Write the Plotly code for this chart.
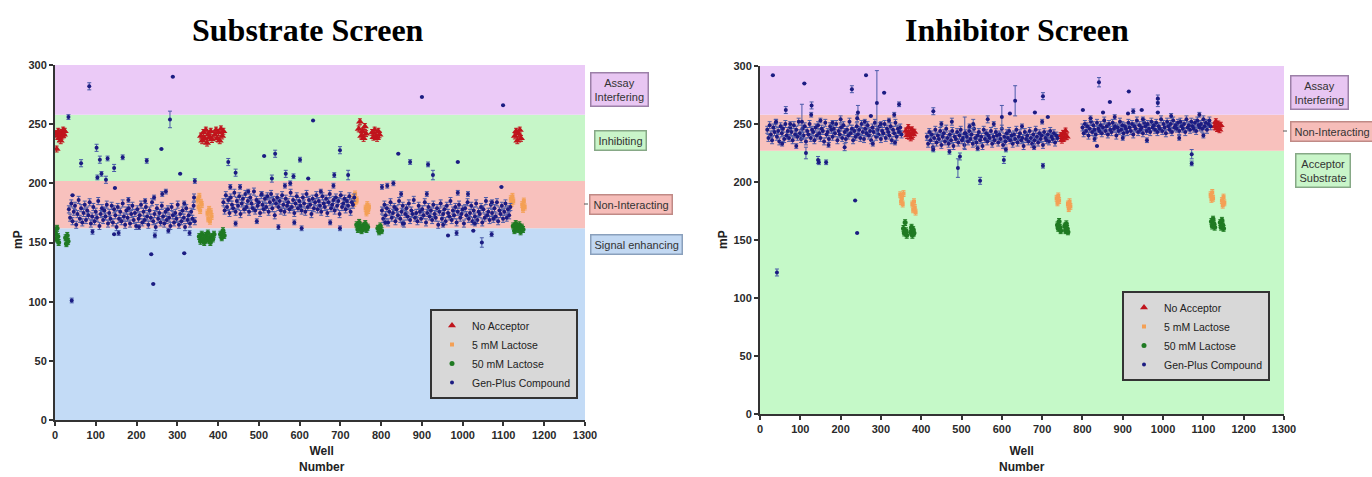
import plotly.graph_objects as go

W, H = 1372, 477
STEP = 3

# ================= Substrate Screen (left) =================
L_zone_bounds = [0, 162, 202, 258, 300]   # signal enhancing / non-interacting / inhibiting / assay interfering

# Gen-Plus dense plates (consecutive wells, every STEP wells)
L_band1_start = 34
L_band1 = [178,171,183,168,176,181,165,174,186,170,179,167,175,182,169,177,173,184,166,172,
           180,168,176,171,185,164,174,179,169,177,172,182,166,175,170,181,167,178,173,163,
           180,170,176,168,183,172,165,177,171,179,166,174,181,169,175,164,178,170,173,182,
           167,176,169,180,172,165,177,171,184,168,174,163,179,170,175,167,181,172,166,176,
           169,178,171,164,180,173,167,175,170,182,165,174,168,177,171,163,179,169,173,166,
           176,170,181,168]
L_band2_start = 413
L_band2 = [184,177,190,180,186,175,188,182,179,192,176,185,181,189,174,183,187,178,191,180,
           185,176,188,183,179,193,177,186,181,184,175,190,182,178,187,180,189,176,184,191,
           179,186,173,183,188,180,185,177,190,182,176,187,181,184,178,192,180,186,175,183,
           189,179,185,181,177,188,183,176,191,180,186,182,174,187,179,184,190,178,185,181,
           176,189,183,180,187,175,184,191,179,182,186,177,188,181,185,174,190,180,183,187,
           178,185,181,189,176,184,182,188]
L_band3_start = 802
L_band3 = [177,170,182,173,179,167,176,184,171,175,180,168,178,173,185,170,176,181,166,174,
           179,172,183,169,177,174,186,171,175,168,181,176,170,178,173,184,167,175,180,172,
           177,169,182,174,171,179,165,176,183,170,174,178,168,181,175,172,185,169,177,173,
           180,167,176,182,171,174,178,166,179,173,184,170,175,181,168,177,172,183,169,176,
           174,180,167,178,171,185,173,176,169,182,175,170,179,172,184,168,177,174,181,170,
           176,183,171,178,173,180]

# Gen-Plus individual wells (hits and scatter) with error bars
L_gp_w = [84,33,289,282,261,307,343,64,102,110,104,114,125,129,145,147,166,225,43,
          425,443,513,540,532,566,585,601,621,633,699,685,719,900,1099,842,871,915,927,988,1095,802,815,830,
          41,236,241,317,92,145,156,245,278,330,1047,964,985,1071,1026,
          221,243,263,272,180,317,341,206,
          430,454,474,507,564,577,683,652,443,495,548,605,587,675,699,
          849,912,988,1013,1072,853,952,1030,810]
L_gp_v = [282,256,290,254,229,208,202,217,230,220,205,208,203,221,213,196,222,219,190,
          218,209,223,225,204,208,206,220,204,253,228,207,207,273,266,225,218,216,207,218,197,197,198,200,
          101,140,115,141,159,157,158,156,160,158,150,156,158,157,160,
          185,188,191,193,186,183,188,163,
          197,197,193,191,198,200,198,193,166,168,163,162,167,167,162,
          191,191,192,191,184,166,165,166,167]
L_gp_e = [3,2,0,7,0,0,2,3,3,3,2,2,3,2,3,0,2,2,0,
          3,3,0,3,3,3,2,2,0,0,3,2,4,0,0,0,2,2,4,0,0,2,2,2,
          2,0,0,0,2,0,2,2,2,2,4,0,2,2,0,
          2,2,2,2,2,2,3,2,
          2,2,2,2,2,2,2,2,2,2,2,2,2,2,2,
          2,2,2,2,2,2,2,2,2]

L_noacc_w = [2,4,6,8,10,12,14,16,18,20,22,24, 358,361,364,367,370,373,376,379,382,385,
             392,395,398,401,404,407,410,413, 745,748,751,754,757,760,763,
             778,781,784,787,790,793,796, 1128,1131,1134,1137,1140,1143]
L_noacc_v = [242,229,240,244,238,241,236,243,240,245,241,244, 240,236,243,238,245,234,241,239,244,237,
             241,245,238,243,236,246,240,244, 246,252,240,244,238,248,242,
             243,239,245,240,238,244,241, 240,244,236,242,245,238]

L_5mm_w = [350,352,354,356,358,360, 374,376,378,380,382,384, 732,734,736,738,740,
           762,764,766,768,770, 1118,1120,1122,1124, 1146,1148,1150,1152]
L_5mm_v = [186,180,189,177,184,182, 175,170,178,168,176,172, 188,183,191,185,186,
           179,175,182,177,180, 187,183,189,185, 182,178,185,180]

L_50mm_w = [1,3,5,7,9, 26,28,30,32, 354,357,360,363,366,369,372,375,378,381,384,387,390,
            406,409,412,415, 740,743,746,749,752,755,758,761,764,767, 792,795,798,801,
            1124,1127,1130,1133,1136,1139,1142,1145,1148]
L_50mm_v = [158,153,162,155,150, 154,149,156,151, 155,151,157,153,150,156,152,158,154,150,155,153,157,
            157,154,160,156, 165,161,167,163,160,164,162,166,161,163, 162,159,164,160,
            164,160,166,162,161,165,159,163,161]

# ================= Inhibitor Screen (right) =================
R_zone_bounds = [0, 227, 258, 300]   # acceptor substrate / non-interacting / assay interfering

R_band1_start = 18
R_band1 = [245,238,249,241,236,247,243,251,239,244,235,248,242,246,237,250,240,244,238,247,
           243,236,249,241,245,239,252,242,237,246,240,248,235,244,241,250,238,245,243,236,
           247,240,249,242,238,246,244,235,251,241,243,237,248,245,239,246,242,250,236,244,
           241,247,238,249,243,237,245,240,252,242,246,236,244,239,248,241,245,238,250,243,
           237,246,242,249,240,244,236,247,243,251,239,245,241,248,237,244,242,250,238,246,
           243,240,248,236,245,242,251,239,246,243,247,241]
R_band2_start = 414
R_band2 = [239,233,243,236,241,230,238,245,234,240,237,244,232,239,242,235,246,238,233,241,
           236,244,231,239,237,243,234,240,245,236,238,232,242,239,235,244,237,241,233,246,
           238,234,240,243,236,239,231,245,237,242,235,240,238,244,233,239,236,243,240,234,
           241,237,246,232,239,235,242,238,244,236,240,233,241,237,245,234,239,242,236,238,
           231,243,237,240,235,244,238,233,241,236,245,239,234,242,237,240,232,243,238,236,
           241,235,244,239,237,242,234,240,238]
R_band3_start = 800
R_band3 = [247,242,250,244,248,240,246,252,243,249,245,241,251,246,244,249,242,247,253,244,
           248,241,250,245,243,251,246,248,240,247,244,252,245,249,242,248,246,243,251,247,
           244,250,241,248,246,253,243,249,245,247,242,251,248,244,250,246,243,252,247,249,
           245,251,243,248,246,254,244,250,247,242,252,248,245,250,243,253,247,249,246,251,
           244,252,248,246,250,243,254,247,249,245,252,248,246,251,244,253,249,247,250,246,
           254,248,251,245,250,253,248]

R_gp_w = [32,110,64,128,127,104,114,144,146,164,228,263,243,241,236,241,290,308,275,345,333,
          430,476,491,496,546,600,605,620,633,682,508,565,529,702,702,714,
          801,841,851,868,836,915,913,926,947,987,987,987,1071,1071,42,
          40,75,150,180,200,260,320,300,55,90,170,210,280,335,
          450,520,580,650,700,430,470,540,610,680,
          820,880,950,1020,1090,830,900,960,1040,1100]
R_gp_v = [292,285,262,266,258,252,225,219,217,217,280,292,260,255,184,156,268,277,257,267,258,
          261,252,212,222,201,256,219,259,270,260,242,254,250,274,214,256,
          262,286,260,269,231,278,259,261,262,272,268,260,224,216,122,
          252,250,253,251,254,252,253,250,233,231,232,230,233,234,
          250,248,250,248,252,228,226,229,228,230,
          255,256,254,257,258,237,238,236,238,240]
R_gp_e = [0,0,3,3,2,15,5,3,2,2,3,0,6,3,0,0,28,0,0,2,2,
          3,3,8,3,3,10,3,0,13,0,14,3,4,3,2,0,
          0,4,0,0,0,0,0,2,0,3,3,0,4,2,3,
          2,2,2,2,3,2,2,2,2,2,2,3,2,2,
          2,2,2,2,2,2,2,2,2,2,
          2,2,2,2,2,2,2,2,2,2]

R_noacc_w = [362,365,368,371,374,377,380,383, 746,749,752,755,758,761, 1128,1131,1134,1137,1140,1143]
R_noacc_v = [244,240,247,242,238,245,241,243, 240,236,242,238,244,239, 248,252,246,250,245,249]

R_5mm_w = [348,350,352,354,356, 378,380,382,384,386, 736,738,740,742, 764,766,768,770,
           1118,1120,1122,1124, 1146,1148,1150,1152]
R_5mm_v = [189,183,186,181,190, 181,176,183,178,174, 186,182,188,184, 181,177,183,179,
           189,185,191,186, 184,180,187,182]

R_50mm_w = [356,358,360,362,364, 374,376,378,380,382, 738,740,742,744,746, 756,758,760,762,764,
            1120,1122,1124,1126,1128, 1142,1144,1146,1148,1150]
R_50mm_v = [160,156,165,158,154, 157,161,154,159,156, 163,160,166,161,158, 162,158,164,160,157,
            166,162,168,164,161, 165,161,167,163,160]

series_names = ["No Acceptor", "5 mM Lactose", "50 mM Lactose", "Gen-Plus Compound"]
x_ticks = list(range(0, 1301, 100))
y_ticks = list(range(0, 301, 50))

# ---------------- styles ----------------
C_RED, C_ORG, C_GRN, C_NAV = "#c0141c", "#f4a055", "#1f7a22", "#1c1c82"
C_ERR = "#4a5aa8"
ZONE_L = ["#c3dbf6", "#f8c1bd", "#c6f6c8", "#ebcaf7"]
ZONE_R = ["#c5f9c8", "#f8c1bd", "#ebcaf7"]


def wells(start, vals):
    return [start + STEP * i for i in range(len(vals))]


fig = go.Figure()


def add_panel(xa, ya, leg, bands, gp, noacc, m5, m50):
    bx, by = [], []
    for start, vals in bands:
        bx += wells(start, vals)
        by += vals
    fig.add_trace(go.Scatter(x=noacc[0], y=noacc[1], mode="markers", name=series_names[0],
                             marker=dict(symbol="triangle-up", size=7, color=C_RED),
                             error_y=dict(type="constant", value=2.5, color=C_RED, thickness=1, width=2),
                             xaxis=xa, yaxis=ya, legend=leg))
    fig.add_trace(go.Scatter(x=m5[0], y=m5[1], mode="markers", name=series_names[1],
                             marker=dict(symbol="square", size=4, color=C_ORG),
                             error_y=dict(type="constant", value=2.5, color=C_ORG, thickness=1, width=2),
                             xaxis=xa, yaxis=ya, legend=leg))
    fig.add_trace(go.Scatter(x=m50[0], y=m50[1], mode="markers", name=series_names[2],
                             marker=dict(symbol="circle", size=5, color=C_GRN),
                             error_y=dict(type="constant", value=2.5, color=C_GRN, thickness=1, width=2),
                             xaxis=xa, yaxis=ya, legend=leg))
    fig.add_trace(go.Scatter(x=bx, y=by, mode="markers", name=series_names[3],
                             marker=dict(symbol="circle", size=4, color=C_NAV),
                             error_y=dict(type="constant", value=3, color=C_ERR, thickness=1, width=2),
                             xaxis=xa, yaxis=ya, legend=leg))
    fig.add_trace(go.Scatter(x=gp[0], y=gp[1], mode="markers", name=series_names[3], showlegend=False,
                             marker=dict(symbol="circle", size=4, color=C_NAV),
                             error_y=dict(type="data", array=gp[2], color=C_ERR, thickness=1, width=2),
                             xaxis=xa, yaxis=ya))


add_panel("x", "y", "legend",
          [(L_band1_start, L_band1), (L_band2_start, L_band2), (L_band3_start, L_band3)],
          (L_gp_w, L_gp_v, L_gp_e), (L_noacc_w, L_noacc_v), (L_5mm_w, L_5mm_v), (L_50mm_w, L_50mm_v))
add_panel("x2", "y2", "legend2",
          [(R_band1_start, R_band1), (R_band2_start, R_band2), (R_band3_start, R_band3)],
          (R_gp_w, R_gp_v, R_gp_e), (R_noacc_w, R_noacc_v), (R_5mm_w, R_5mm_v), (R_50mm_w, R_50mm_v))

shapes = []
for i, col in enumerate(ZONE_L):
    shapes.append(dict(type="rect", xref="x", yref="y", x0=0, x1=1300,
                       y0=L_zone_bounds[i], y1=L_zone_bounds[i + 1],
                       fillcolor=col, line=dict(width=0), layer="below"))
for i, col in enumerate(ZONE_R):
    shapes.append(dict(type="rect", xref="x2", yref="y2", x0=0, x1=1300,
                       y0=R_zone_bounds[i], y1=R_zone_bounds[i + 1],
                       fillcolor=col, line=dict(width=0), layer="below"))
# little connector dashes next to the Non-Interacting labels
shapes.append(dict(type="line", xref="paper", yref="paper", x0=584 / W, x1=588 / W,
                   y0=1 - 204 / H, y1=1 - 204 / H, line=dict(color="#555", width=1)))
shapes.append(dict(type="line", xref="paper", yref="paper", x0=1283 / W, x1=1287 / W,
                   y0=1 - 131 / H, y1=1 - 131 / H, line=dict(color="#555", width=1)))

axis_common = dict(showgrid=False, zeroline=False, showline=True, linecolor="#333", linewidth=2,
                   ticks="outside", ticklen=4, tickwidth=1.5, tickcolor="#333", automargin=False,
                   tickfont=dict(family="Arial", size=11, color="#2a2a2a", weight="bold"))

legend_common = dict(xanchor="left", yanchor="top", bgcolor="#d8d8d8",
                     bordercolor="#333", borderwidth=2,
                     font=dict(family="Arial", size=10.5, color="#222"),
                     tracegroupgap=0, itemwidth=30)

fig.update_layout(
    width=W, height=H, margin=dict(l=0, r=0, t=0, b=0, pad=0, autoexpand=False),
    paper_bgcolor="white", plot_bgcolor="white",
    shapes=shapes,
    xaxis=dict(domain=[55 / W, 585 / W], range=[0, 1300], tickvals=x_ticks, anchor="y", **axis_common),
    yaxis=dict(domain=[1 - 420 / H, 1 - 65 / H], range=[0, 300], tickvals=y_ticks, anchor="x", **axis_common),
    xaxis2=dict(domain=[760 / W, 1284 / W], range=[0, 1300], tickvals=x_ticks, anchor="y2", **axis_common),
    yaxis2=dict(domain=[1 - 414 / H, 1 - 66 / H], range=[0, 300], tickvals=y_ticks, anchor="x2", **axis_common),
    legend=dict(x=430 / W, y=1 - 309 / H, **legend_common),
    legend2=dict(x=1122 / W, y=1 - 291 / H, **legend_common),
    showlegend=True,
)

ann = []


def txt(x, y, text, size=11, bold=False, family="Arial", **kw):
    t = f"<b>{text}</b>" if bold else text
    d = dict(xref="paper", yref="paper", x=x / W, y=1 - y / H, text=t, showarrow=False,
             font=dict(family=family, size=size, color=kw.pop("color", "#222")),
             xanchor="center", yanchor="middle")
    d.update(kw)
    ann.append(d)


txt(308, 30, "Substrate Screen", size=32, bold=True, family="Liberation Serif", color="#000")
txt(1017, 30, "Inhibitor Screen", size=32, bold=True, family="Liberation Serif", color="#000")
txt(18, 240, "mP", size=12, bold=True, textangle=-90)
txt(723, 240, "mP", size=12, bold=True, textangle=-90)
txt(322, 459, "Well<br>Number", size=12, bold=True)
txt(1022, 459, "Well<br>Number", size=12, bold=True)

box = dict(borderwidth=1.5, borderpad=3)
txt(619, 90, "Assay<br>Interfering", bgcolor="#e8c6f2", bordercolor="#9c80a8", color="#333", **box)
txt(620, 141, "Inhibiting", bgcolor="#c9f5c9", bordercolor="#86a886", color="#333", **box)
txt(631, 204, "Non-Interacting", bgcolor="#f6bdb9", bordercolor="#c08a86", color="#333", **box)
txt(636, 245, "Signal enhancing", bgcolor="#c2d8f2", bordercolor="#8aa0bc", color="#333", **box)
txt(1319, 92, "Assay<br>Interfering", bgcolor="#e8c6f2", bordercolor="#9c80a8", color="#333", **box)
txt(1332, 131, "Non-Interacting", bgcolor="#f6bdb9", bordercolor="#c08a86", color="#333", **box)
txt(1323, 170, "Acceptor<br>Substrate", bgcolor="#c9f5c9", bordercolor="#86a886", color="#333", **box)

fig.update_layout(annotations=ann)
fig.write_html("out.html", config={"displayModeBar": False},
               post_script="document.body.style.margin='0';document.body.style.overflow='hidden';"
                           "document.documentElement.style.overflow='hidden';")
